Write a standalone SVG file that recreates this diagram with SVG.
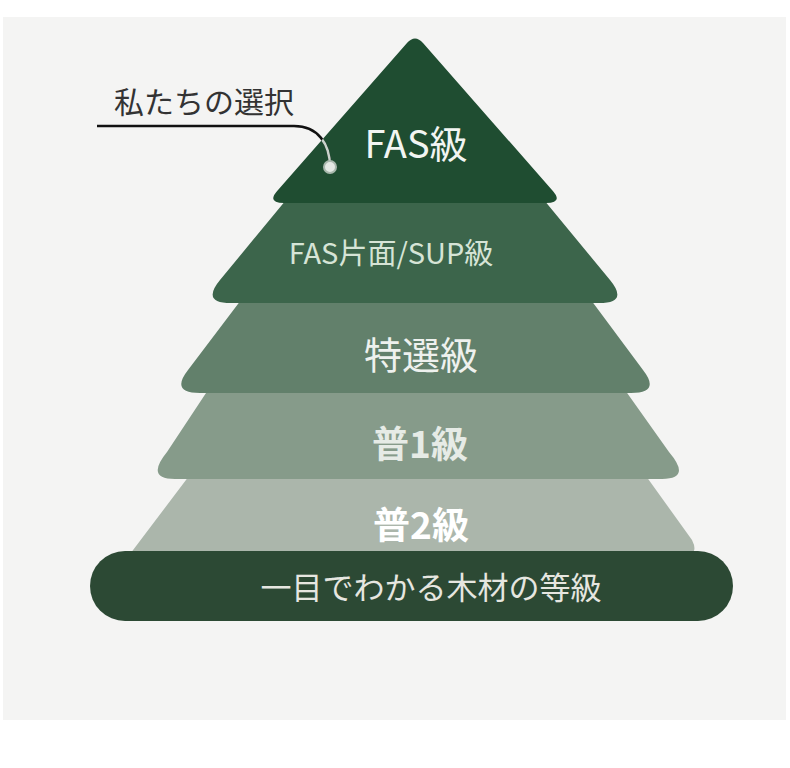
<svg xmlns="http://www.w3.org/2000/svg" width="790" height="768" viewBox="0 0 790 768">
<defs>
<style>
.t{font-family:"Noto Sans CJK JP","Noto Sans",sans-serif;text-anchor:middle}
.b{font-weight:bold}
</style>
<clipPath id="c1"><path d="M407,43 Q415,34 423,43 L552,190 Q564,203 546,203 L284,203 Q266,203 278,190 Z"/></clipPath>
</defs>
<rect x="0" y="0" width="790" height="768" fill="#ffffff"/>
<rect x="3" y="17" width="783" height="703" fill="#f4f4f3"/>
<g id="tier5">
<path d="M189,476 L646,476 L692,540 Q700,556 682,556 L124,562 Z" fill="#abb6ab"/>
<text class="t b" x="421" y="539" font-size="37" fill="#ffffff">普2級</text>
</g>
<g id="tier4">
<path d="M208,390 L625,390 L669,452 Q692,479 662,479 L175,479 Q145,479 167,452 Z" fill="#869b8a"/>
<text class="t b" x="420" y="458" font-size="37" fill="#e6ebe6">普1級</text>
</g>
<g id="tier3">
<path d="M241,300 L591,300 L643,370 Q661,393 631,393 L200,393 Q170,393 188,370 Z" fill="#62806b"/>
<text class="t" x="421" y="369" font-size="38" fill="#eef1ee">特選級</text>
</g>
<g id="tier2">
<path d="M286,200 L544,200 L610,280 Q629,303 599,303 L231,303 Q201,303 220,280 Z" fill="#3c654b"/>
<text class="t" x="391" y="264" font-size="29" fill="#d6e4d6">FAS片面/SUP級</text>
</g>
<g id="tier1">
<path d="M407,43 Q415,34 423,43 L552,190 Q564,203 546,203 L284,203 Q266,203 278,190 Z" fill="#1f4d31"/>
<text class="t" x="416" y="158" font-size="38" fill="#f2f5f2">FAS級</text>
</g>
<g id="base">
<rect x="90" y="551" width="643" height="70" rx="35" fill="#2c4934"/>
<text class="t" x="431" y="599" font-size="31" fill="#e6e6e0">一目でわかる木材の等級</text>
</g>
<g id="callout">
<text x="114" y="113" font-family="'Noto Sans CJK JP','Noto Sans',sans-serif" font-size="30" fill="#333333">私たちの選択</text>
</g>
<g id="connectors">
<path d="M97,126 L294,126 C318,126 330,144 330,167" fill="none" stroke="#111111" stroke-width="2.5"/>
<path d="M97,126 L294,126 C318,126 330,144 330,167" fill="none" stroke="#c9d3cb" stroke-width="2.5" clip-path="url(#c1)"/>
<circle cx="330" cy="167" r="6" fill="#e4e9e4" stroke="#a9b8ad" stroke-width="2"/>
</g>
</svg>
